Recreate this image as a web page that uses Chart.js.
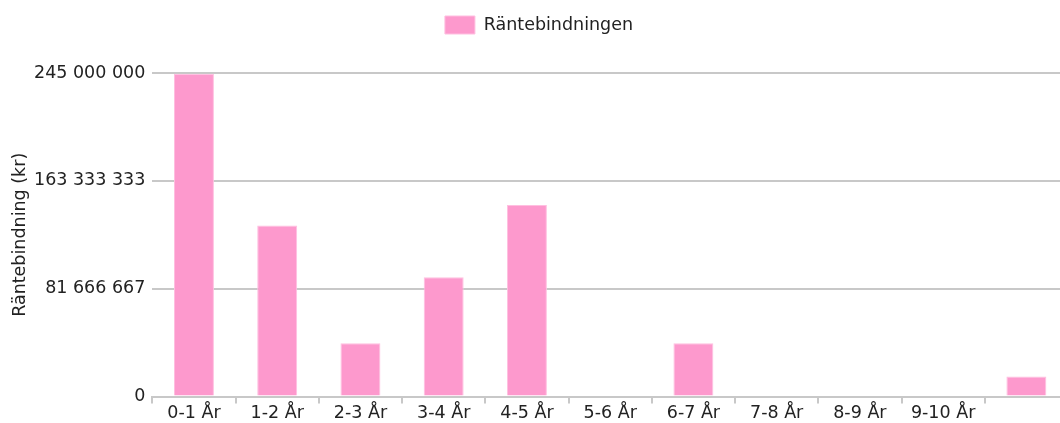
<!DOCTYPE html>
<html>
<head>
<meta charset="utf-8">
<script src="https://cdn.jsdelivr.net/npm/chart.js@4"></script>
<style>
  html, body { margin: 0; padding: 0; background: #fff; overflow: hidden; }
  #wrap { width: 1086px; height: 423px; }
</style>
</head>
<body>
<div id="wrap"><canvas id="rateChart"></canvas></div>
<script>
// Räntebindning per period
const categories = ['0-1 År', '1-2 År', '2-3 År', '3-4 År', '4-5 År', '5-6 År', '6-7 År', '7-8 År', '8-9 År', '9-10 År', ''];
const amounts = [244500000, 129500000, 40300000, 90300000, 145000000, 0, 40300000, 0, 0, 0, 15200000];
const yTicks = [0, 81666667, 163333333, 245000000];

function formatKr(v) {
    return String(Math.round(v)).replace(/\B(?=(\d{3})+(?!\d))/g, ' ');
}

// extra space under the legend, and nudge it a bit to the right
const legendGap = {
    id: 'legendGap',
    beforeInit(chart) {
        const fit = chart.legend.fit;
        chart.legend.fit = function () {
            fit.bind(chart.legend)();
            this.height += 29;
        };
    },
    afterLayout(chart) {
        chart.legend.left += 5;
        chart.legend.right += 5;
    }
};

Chart.defaults.font.family = '"DejaVu Sans", sans-serif';
Chart.defaults.font.size = 17.5;
Chart.defaults.color = '#222';

const ctx = document.getElementById('rateChart').getContext('2d');
new Chart(ctx, {
    type: 'bar',
    data: {
        labels: categories,
        datasets: [{
            label: 'Räntebindningen',
            data: amounts,
            backgroundColor: '#fd99cd',
            borderColor: '#ffbfe0',
            borderWidth: 1,
            barPercentage: 0.48,
            categoryPercentage: 1
        }]
    },
    options: {
        responsive: true,
        maintainAspectRatio: false,
        animation: false,
        layout: { padding: { top: 6, right: 18, left: 0, bottom: 0 } },
        plugins: {
            legend: {
                position: 'top',
                labels: { boxWidth: 30, boxHeight: 18, padding: 10 }
            },
            tooltip: { enabled: false }
        },
        scales: {
            x: {
                grid: {
                    offset: true,
                    drawOnChartArea: false,
                    color: '#c8c8c8',
                    tickLength: 7,
                    lineWidth: 2
                },
                border: { color: '#c8c8c8', width: 2 },
                ticks: { padding: 2, maxRotation: 0, autoSkip: false, font: { lineHeight: 0.88 } }
            },
            y: {
                min: 0,
                max: 245000000,
                afterBuildTicks: scale => {
                    scale.ticks = yTicks.map(v => ({ value: v }));
                },
                grid: { color: '#c8c8c8', drawTicks: false, lineWidth: 2 },
                border: { display: false },
                ticks: { padding: 7, callback: v => formatKr(v) },
                title: { display: true, text: 'Räntebindning (kr)', padding: { top: 10, bottom: -4 } }
            }
        }
    },
    plugins: [legendGap]
});
</script>
</body>
</html>
